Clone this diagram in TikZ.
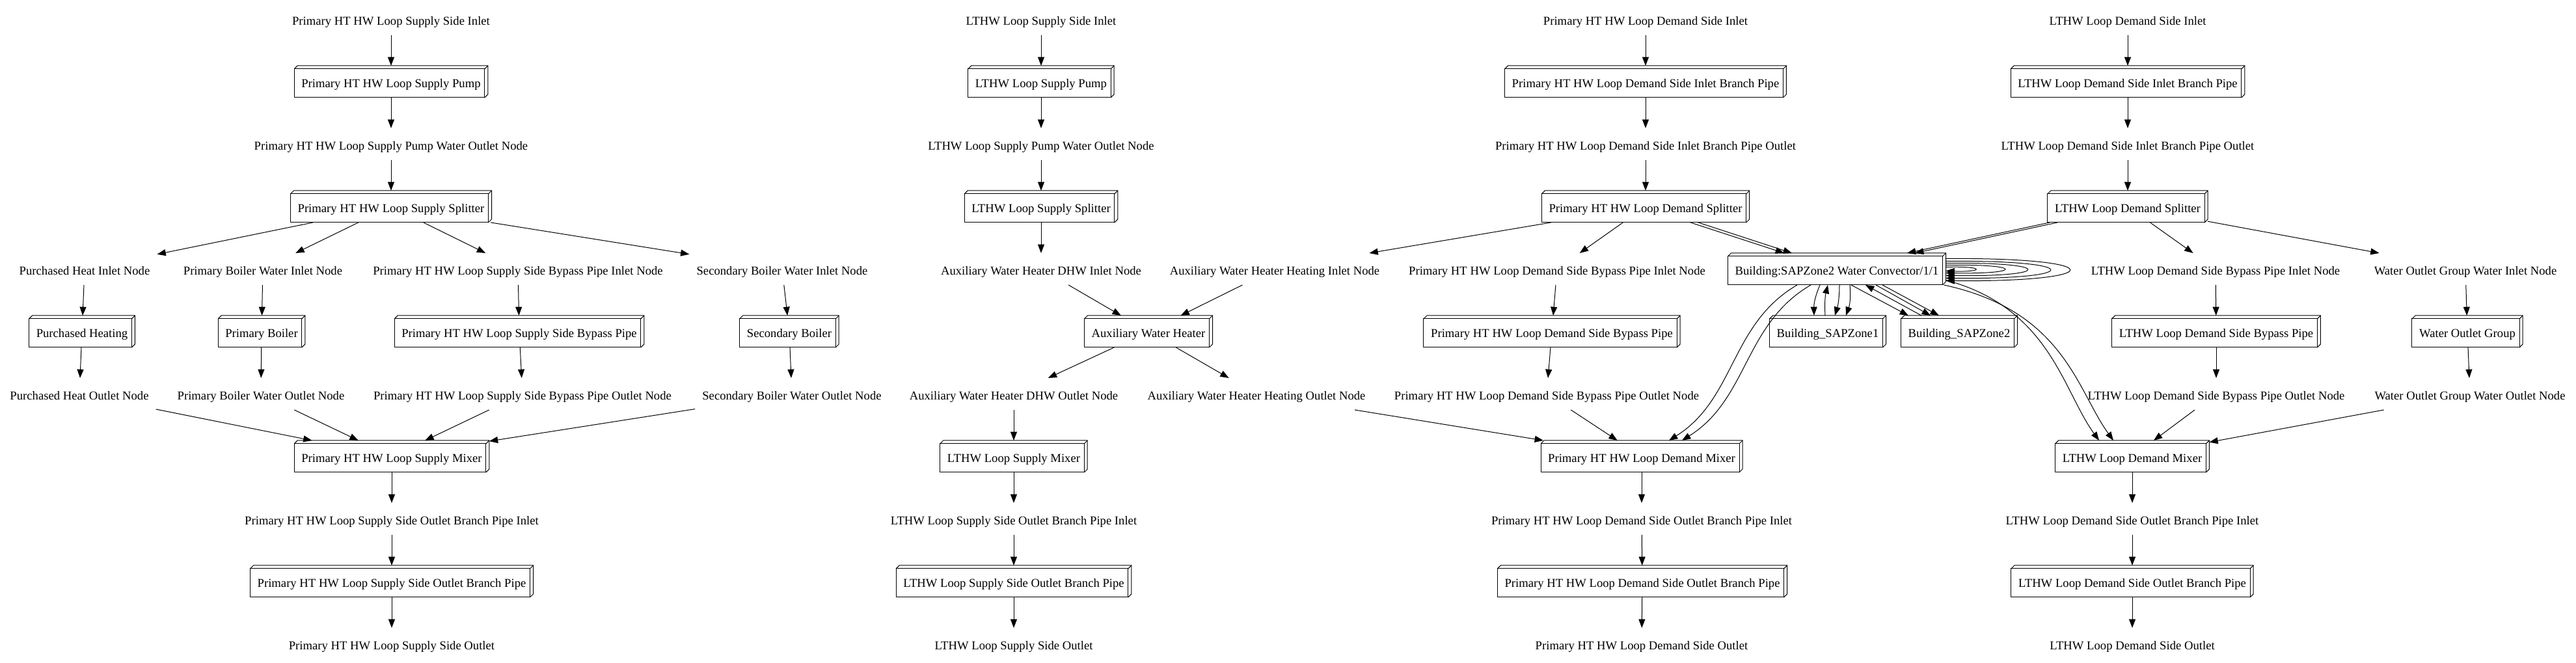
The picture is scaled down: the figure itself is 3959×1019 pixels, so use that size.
\documentclass[tikz,border=0pt]{standalone}
\usepackage{fontspec}
\setmainfont{Liberation Serif}
\usepackage{tikz}
\usetikzlibrary{arrows.meta, calc}

\begin{document}
\begin{tikzpicture}[x=0.75pt, y=0.75pt, line width=0.75pt,
        lbl/.style={rectangle, minimum height=36pt, inner xsep=8pt, inner ysep=0pt, text height=14.5pt, text depth=1pt, font=\fontsize{14pt}{16pt}\selectfont},
        comp/.style={lbl},
        flow/.style={-{Triangle[length=10pt, width=7.5pt]}}]
    \useasboundingbox (0,0) rectangle (3959,1019);

    % primary supply side
    \node[lbl] (supin1) at (601,989.5) {Primary HT HW Loop Supply Side Inlet};
    \node[comp] (pump1) at (601,893.5) {Primary HT HW Loop Supply Pump};
    \node[lbl] (pumpout1) at (601,797.5) {Primary HT HW Loop Supply Pump Water Outlet Node};
    \node[comp] (split1) at (601,701.5) {Primary HT HW Loop Supply Splitter};
    \node[lbl] (phin) at (130,605.5) {Purchased Heat Inlet Node};
    \node[lbl] (pbin) at (404,605.5) {Primary Boiler Water Inlet Node};
    \node[lbl] (bypin1) at (796,605.5) {Primary HT HW Loop Supply Side Bypass Pipe Inlet Node};
    \node[lbl] (sbin) at (1202,605.5) {Secondary Boiler Water Inlet Node};
    \node[comp] (ph) at (126,509.5) {Purchased Heating};
    \node[comp] (pb) at (402,509.5) {Primary Boiler};
    \node[comp] (byp1) at (798,509.5) {Primary HT HW Loop Supply Side Bypass Pipe};
    \node[comp] (sb) at (1213,509.5) {Secondary Boiler};
    \node[lbl] (phout) at (122,413.5) {Purchased Heat Outlet Node};
    \node[lbl] (pbout) at (401,413.5) {Primary Boiler Water Outlet Node};
    \node[lbl] (bypout1) at (803,413.5) {Primary HT HW Loop Supply Side Bypass Pipe Outlet Node};
    \node[lbl] (sbout) at (1217,413.5) {Secondary Boiler Water Outlet Node};
    \node[comp] (mix1) at (602,317.5) {Primary HT HW Loop Supply Mixer};
    \node[lbl] (brin1) at (602,221.5) {Primary HT HW Loop Supply Side Outlet Branch Pipe Inlet};
    \node[comp] (br1) at (602,125.5) {Primary HT HW Loop Supply Side Outlet Branch Pipe};
    \node[lbl] (supout1) at (602,29.5) {Primary HT HW Loop Supply Side Outlet};

    % LTHW supply side
    \node[lbl] (supin2) at (1600,989.5) {LTHW Loop Supply Side Inlet};
    \node[comp] (pump2) at (1600,893.5) {LTHW Loop Supply Pump};
    \node[lbl] (pumpout2) at (1600,797.5) {LTHW Loop Supply Pump Water Outlet Node};
    \node[comp] (split2) at (1600,701.5) {LTHW Loop Supply Splitter};
    \node[lbl] (auxdhwin) at (1600,605.5) {Auxiliary Water Heater DHW Inlet Node};
    \node[lbl] (auxhtin) at (1959,605.5) {Auxiliary Water Heater Heating Inlet Node};
    \node[comp] (auxwh) at (1765,509.5) {Auxiliary Water Heater};
    \node[lbl] (auxdhwout) at (1558,413.5) {Auxiliary Water Heater DHW Outlet Node};
    \node[lbl] (auxhtout) at (1931,413.5) {Auxiliary Water Heater Heating Outlet Node};
    \node[comp] (mix2) at (1558,317.5) {LTHW Loop Supply Mixer};
    \node[lbl] (brin2) at (1558,221.5) {LTHW Loop Supply Side Outlet Branch Pipe Inlet};
    \node[comp] (br2) at (1558,125.5) {LTHW Loop Supply Side Outlet Branch Pipe};
    \node[lbl] (supout2) at (1558,29.5) {LTHW Loop Supply Side Outlet};

    % primary demand side
    \node[lbl] (demin3) at (2529,989.5) {Primary HT HW Loop Demand Side Inlet};
    \node[comp] (inbr3) at (2529,893.5) {Primary HT HW Loop Demand Side Inlet Branch Pipe};
    \node[lbl] (inbrout3) at (2529,797.5) {Primary HT HW Loop Demand Side Inlet Branch Pipe Outlet};
    \node[comp] (split3) at (2529,701.5) {Primary HT HW Loop Demand Splitter};
    \node[lbl] (bypin3) at (2393,605.5) {Primary HT HW Loop Demand Side Bypass Pipe Inlet Node};
    \node[comp] (conv) at (2823,605.5) {Building:SAPZone2 Water Convector/1/1};
    \node[comp] (byp3) at (2385,509.5) {Primary HT HW Loop Demand Side Bypass Pipe};
    \node[comp] (zone1) at (2809,509.5) {Building\_SAPZone1};
    \node[comp] (zone2) at (3011,509.5) {Building\_SAPZone2};
    \node[lbl] (bypout3) at (2377,413.5) {Primary HT HW Loop Demand Side Bypass Pipe Outlet Node};
    \node[comp] (mix3) at (2523,317.5) {Primary HT HW Loop Demand Mixer};
    \node[lbl] (brin3) at (2523,221.5) {Primary HT HW Loop Demand Side Outlet Branch Pipe Inlet};
    \node[comp] (br3) at (2524,125.5) {Primary HT HW Loop Demand Side Outlet Branch Pipe};
    \node[lbl] (demout3) at (2523,29.5) {Primary HT HW Loop Demand Side Outlet};

    % LTHW demand side
    \node[lbl] (demin4) at (3270,989.5) {LTHW Loop Demand Side Inlet};
    \node[comp] (inbr4) at (3270,893.5) {LTHW Loop Demand Side Inlet Branch Pipe};
    \node[lbl] (inbrout4) at (3270,797.5) {LTHW Loop Demand Side Inlet Branch Pipe Outlet};
    \node[comp] (split4) at (3270,701.5) {LTHW Loop Demand Splitter};
    \node[lbl] (bypin4) at (3405,605.5) {LTHW Loop Demand Side Bypass Pipe Inlet Node};
    \node[lbl] (wogin) at (3789,605.5) {Water Outlet Group Water Inlet Node};
    \node[comp] (byp4) at (3406,509.5) {LTHW Loop Demand Side Bypass Pipe};
    \node[comp] (wog) at (3792,509.5) {Water Outlet Group};
    \node[lbl] (bypout4) at (3406,413.5) {LTHW Loop Demand Side Bypass Pipe Outlet Node};
    \node[lbl] (wogout) at (3796,413.5) {Water Outlet Group Water Outlet Node};
    \node[comp] (mix4) at (3277,317.5) {LTHW Loop Demand Mixer};
    \node[lbl] (brin4) at (3277,221.5) {LTHW Loop Demand Side Outlet Branch Pipe Inlet};
    \node[comp] (br4) at (3277,125.5) {LTHW Loop Demand Side Outlet Branch Pipe};
    \node[lbl] (demout4) at (3277,29.5) {LTHW Loop Demand Side Outlet};

    % 3d boxes
    \foreach \n in {pump1, split1, ph, pb, byp1, sb, mix1, br1, pump2, split2, auxwh, mix2, br2,
            inbr3, split3, conv, byp3, zone1, zone2, mix3, br3, inbr4, split4, byp4, wog, mix4, br4} {
        \draw (\n.south west) rectangle ($(\n.north east)+(-5,-5)$);
        \draw ($(\n.north west)+(0,-5)$) -- ($(\n.north west)+(5,0)$) -- (\n.north east)
            -- ($(\n.south east)+(0,5)$) -- ($(\n.south east)+(-5,0)$);
        \draw ($(\n.north east)+(-5,-5)$) -- (\n.north east);
    }

    \foreach \a/\b in {supin1/pump1, pump1/pumpout1, pumpout1/split1, split1/phin, split1/pbin,
            split1/bypin1, split1/sbin, phin/ph, ph/phout, pbin/pb, pb/pbout, bypin1/byp1,
            byp1/bypout1, sbin/sb, sb/sbout, phout/mix1, pbout/mix1, bypout1/mix1, sbout/mix1,
            mix1/brin1, brin1/br1, br1/supout1,
            supin2/pump2, pump2/pumpout2, pumpout2/split2, split2/auxdhwin, auxdhwin/auxwh,
            auxhtin/auxwh, auxwh/auxdhwout, auxwh/auxhtout, auxdhwout/mix2, mix2/brin2,
            brin2/br2, br2/supout2, auxhtout/mix3,
            demin3/inbr3, inbr3/inbrout3, inbrout3/split3, split3/auxhtin, split3/bypin3,
            bypin3/byp3, byp3/bypout3, bypout3/mix3, mix3/brin3, brin3/br3, br3/demout3,
            demin4/inbr4, inbr4/inbrout4, inbrout4/split4, split4/bypin4, split4/wogin,
            bypin4/byp4, byp4/bypout4, wogin/wog, wog/wogout, bypout4/mix4, wogout/mix4,
            mix4/brin4, brin4/br4, br4/demout4}
        \draw[flow] (\a) -- (\b);

    \foreach \s in {-4.5pt, 4.5pt} {
        \draw[flow, transform canvas={xshift=\s}] (split3) -- (conv);
        \draw[flow, transform canvas={xshift=\s}] (split4) -- (conv);
    }

    \draw[flow] ($(conv.south)+(-61,0)$) .. controls +(-103,-60) and +(102,64) .. ($(mix3.north)+(42,0)$);
    \draw[flow] ($(conv.south)+(-40,0)$) .. controls +(-103,-60) and +(102,64) .. ($(mix3.north)+(62,0)$);
    \draw[flow] ($(conv.east)+(0,-17)$) .. controls +(160,-43) and +(-56,77) .. ($(mix4.north)+(-51,0)$);
    \draw[flow] ($(conv.south east)+(-3,0)$) .. controls +(185,-40) and +(-56,77) .. ($(mix4.north)+(-29,0)$);

    \foreach \r/\s/\e in {45/3/3, 90/6/6, 125/9/10, 160/12/14, 190/16/18}
        \draw[flow] ($(conv.east)+(0,\s)$) .. controls +(1.33*\r,2) and +(1.33*\r,-2) .. ($(conv.east)+(0,-\e)$);

    \draw[flow] ($(conv.south)+(-26,0)$) to[bend right=12] ($(zone1.north)+(-21,0)$);
    \draw[flow] ($(zone1.north)+(-4,0)$) to[bend left=8] ($(conv.south)+(-14,0)$);
    \draw[flow] ($(conv.south)+(4,0)$) to[bend left=8] ($(zone1.north)+(11,0)$);
    \draw[flow] ($(conv.south)+(20,0)$) to[bend left=12] ($(zone1.north)+(28,0)$);
    \draw[flow] ($(conv.south)+(22,0)$) -- ($(zone2.north)+(-78,0)$);
    \draw[flow] ($(zone2.north)+(-58,0)$) -- ($(conv.south)+(44,0)$);
    \draw[flow] ($(conv.south)+(60,0)$) -- ($(zone2.north)+(-44,0)$);
    \draw[flow] ($(conv.south)+(70,0)$) -- ($(zone2.north)+(-31,0)$);
\end{tikzpicture}
\end{document}
